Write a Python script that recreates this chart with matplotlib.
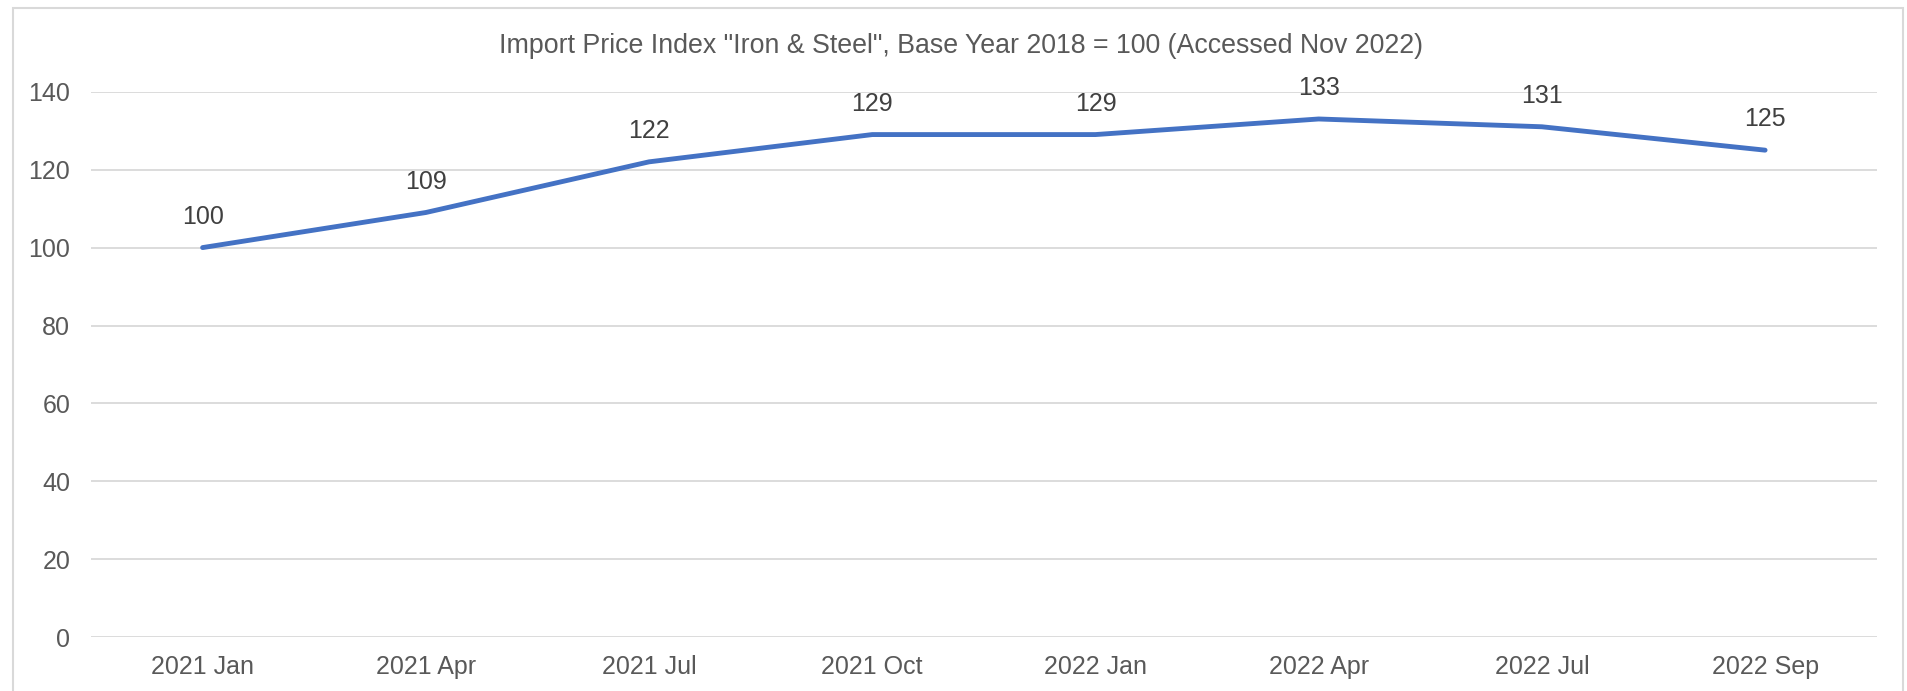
import matplotlib.pyplot as plt
from matplotlib.patches import Rectangle

# data
months = ['2021 Jan', '2021 Apr', '2021 Jul', '2021 Oct',
          '2022 Jan', '2022 Apr', '2022 Jul', '2022 Sep']
index_values = [100, 109, 122, 129, 129, 133, 131, 125]
y_ticks = [0, 20, 40, 60, 80, 100, 120, 140]

plt.rcParams['font.family'] = ['Liberation Sans', 'DejaVu Sans']
text_color = '#595959'
grid_color = '#D9D9D9'

fig = plt.figure(figsize=(19.07, 6.91), dpi=100)
ax = fig.add_axes([91 / 1907, 1 - 637.3 / 691, (1876.7 - 91) / 1907, (637.3 - 91.7) / 691])

# chart frame
fig.patches.append(Rectangle((13 / 1907, -0.05), (1903 - 13) / 1907, 1.05 - 8 / 691,
                             transform=fig.transFigure, fill=False,
                             edgecolor=grid_color, lw=1.5))

x = list(range(len(months)))
ax.plot(x, index_values, color='#4472C4', lw=3.5, solid_capstyle='round')
for xi, v in zip(x, index_values):
    ax.annotate(str(v), (xi, v), xytext=(0, 31), textcoords='offset pixels',
                ha='center', va='center', fontsize=18, color='#404040')

ax.set_xlim(-0.5, len(months) - 0.5)
ax.set_ylim(0, 140)
ax.set_xticks(x)
ax.set_xticklabels(months)
ax.set_yticks(y_ticks)
ax.tick_params(axis='both', length=0, labelsize=18, labelcolor=text_color)
ax.tick_params(axis='y', pad=15)
ax.tick_params(axis='x', pad=13)
ax.grid(axis='y', color=grid_color, lw=1.3)
ax.set_axisbelow(True)
for s in ax.spines.values():
    s.set_visible(False)

fig.text(961 / 1907, 1 - 46 / 691,
         'Import Price Index "Iron & Steel", Base Year 2018 = 100 (Accessed Nov 2022)',
         ha='center', va='center', fontsize=19.3, color=text_color)

fig.savefig('out.png', dpi=100)
